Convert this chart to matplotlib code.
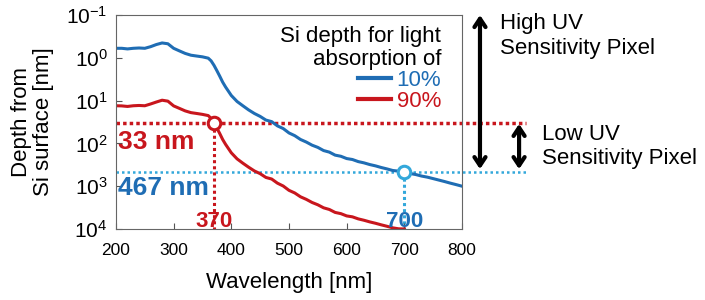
import matplotlib
matplotlib.use('Agg')
import matplotlib.pyplot as plt
from matplotlib.ticker import NullLocator

plt.rcParams['font.family'] = ['Liberation Sans', 'DejaVu Sans']
plt.rcParams['mathtext.fontset'] = 'custom'
plt.rcParams['mathtext.rm'] = 'Liberation Sans'
plt.rcParams['mathtext.it'] = 'Liberation Sans:italic'
plt.rcParams['mathtext.bf'] = 'Liberation Sans:bold'

# wavelength [nm]
wavelength = [200, 210, 220, 230, 240, 250, 260, 270, 280, 290, 300, 310, 320, 330,
              340, 350, 360, 365, 370, 375, 380, 385, 390, 400, 410, 420, 430, 440,
              450, 460, 470, 480, 490, 500, 510, 520, 530, 540, 550, 560, 570, 580,
              590, 600, 610, 620, 630, 640, 650, 660, 670, 680, 690, 700, 710, 720,
              730, 740, 750, 760, 770, 780, 790, 800]

# Si depth for 10% absorption [nm]
depth_10 = [0.60, 0.60, 0.62, 0.60, 0.59, 0.60, 0.55, 0.49, 0.45, 0.47, 0.60, 0.69, 0.79, 0.87,
            0.91, 0.95, 1.02, 1.18, 1.5, 2.0, 2.7, 3.7, 4.8, 7.6, 10.5, 13.2, 16.5, 20.0,
            23.4, 28.5, 31.0, 39.0, 45.0, 57.0, 66.0, 81.0, 93.0, 110, 124, 147, 160, 188,
            200, 226, 238, 266, 285, 312, 335, 366, 395, 430, 445, 467, 505, 535,
            580, 615, 665, 720, 780, 850, 920, 1000]

# Si depth for 90% absorption [nm]
depth_90 = [13.2, 13.3, 13.7, 13.2, 13.0, 13.2, 12.0, 10.8, 9.8, 10.3, 13.3, 15.2, 17.4, 19.1,
            20.0, 21.0, 22.4, 26.0, 33.0, 44.0, 59.0, 81.0, 105, 166, 230, 290, 360, 440,
            510, 625, 680, 850, 990, 1250, 1440, 1770, 2030, 2400, 2720, 3200, 3500, 4100,
            4380, 4950, 5200, 5800, 6250, 6820, 7350, 8000, 8650, 9400, 9900, 10000]

marker_wl = [370, 700]
marker_depth = [33, 467]
marker_text = ['33 nm', '467 nm']
x_ticks = [200, 300, 400, 500, 600, 700, 800]

blue = '#1f6db4'
red = '#c8161d'
cyan = '#33a8db'

fig = plt.figure(figsize=(7.05, 3.0), dpi=100)
ax = fig.add_axes([0.1645, 0.2367, 0.4908, 0.7133])

ax.plot(wavelength, depth_10, color=blue, lw=2.2, label='10%')
ax.plot(wavelength[:len(depth_90)], depth_90, color=red, lw=2.2, label='90%')

ax.set_yscale('log')
ax.set_ylim(1e4, 1e-1)
ax.set_xlim(200, 800)
ax.set_xticks(x_ticks)
ax.yaxis.set_minor_locator(NullLocator())
ax.tick_params(direction='in', length=4, color='#555555')
ax.tick_params(axis='x', labelsize=12.5, pad=10)
ax.tick_params(axis='y', labelsize=15, pad=6)
for s in ax.spines.values():
    s.set_color('#666666')

ax.set_xlabel('Wavelength [nm]', fontsize=16)
ax.set_ylabel('Depth from\nSi surface [nm]', fontsize=16, linespacing=1.05)
ax.xaxis.set_label_coords(0.5, -0.2)
ax.yaxis.set_label_coords(-0.18, 0.5)

# dotted guide lines for the two marked points
ax.axhline(marker_depth[0], xmin=0, xmax=1.185, color=red, lw=2.5,
           ls=(0, (1, 0.9)), clip_on=False, zorder=1)
ax.axhline(marker_depth[1], xmin=0, xmax=1.185, color=cyan, lw=1.8,
           ls=(0, (1, 1.2)), clip_on=False, zorder=1)
ax.plot([marker_wl[0], marker_wl[0]], [marker_depth[0], 1e4], color=red, lw=2.2,
        ls=(0, (1, 1)), zorder=1)
ax.plot([marker_wl[1], marker_wl[1]], [marker_depth[1], 1e4], color=cyan, lw=2.2,
        ls=(0, (1, 1)), zorder=1)
ax.plot(marker_wl[0], marker_depth[0], 'o', ms=9, mfc='white', mec=red, mew=2.2, zorder=5)
ax.plot(marker_wl[1], marker_depth[1], 'o', ms=9, mfc='white', mec=cyan, mew=2.2, zorder=5)

# value labels
ax.text(0.006, 0.405, marker_text[0], transform=ax.transAxes, color=red,
        fontsize=19, fontweight='bold', ha='left', va='center')
ax.text(0.006, 0.192, marker_text[1], transform=ax.transAxes, color=blue,
        fontsize=19, fontweight='bold', ha='left', va='center')
ax.text(marker_wl[0], 0.035, str(marker_wl[0]), transform=ax.get_xaxis_transform(),
        color=red, fontsize=16, fontweight='bold', ha='center', va='center')
ax.text(marker_wl[1], 0.035, str(marker_wl[1]), transform=ax.get_xaxis_transform(),
        color=blue, fontsize=16, fontweight='bold', ha='center', va='center')

leg = ax.legend(title='Si depth for light\nabsorption of', loc='upper right',
                bbox_to_anchor=(0.985, 1.02), frameon=False, fontsize=16,
                title_fontsize=16, alignment='right', handlelength=1.5,
                handletextpad=0.25, labelcolor='linecolor', labelspacing=0.0,
                borderpad=0.2)
leg.get_title().set_multialignment('right')
leg.get_title().set_linespacing(1.1)
for h in leg.legend_handles:
    h.set_linewidth(3)

# sensitivity arrows
blend = ('axes fraction', 'data')
arrow = dict(arrowstyle='<->,head_length=0.6,head_width=0.4',
             color='black', lw=3, shrinkA=0, shrinkB=0)
ax.annotate('', xy=(1.052, 0.1), xytext=(1.052, 400), xycoords=blend, textcoords=blend,
            arrowprops=arrow)
ax.annotate('', xy=(1.165, 35), xytext=(1.165, 400), xycoords=blend, textcoords=blend,
            arrowprops=arrow)
ax.text(1.11, 1.01, 'High UV\nSensitivity Pixel', transform=ax.transAxes,
        fontsize=16, ha='left', va='top', linespacing=1.25)
ax.text(1.231, 0.49, 'Low UV\nSensitivity Pixel', transform=ax.transAxes,
        fontsize=16, ha='left', va='top', linespacing=1.2)

fig.savefig('out.png', dpi=100)
